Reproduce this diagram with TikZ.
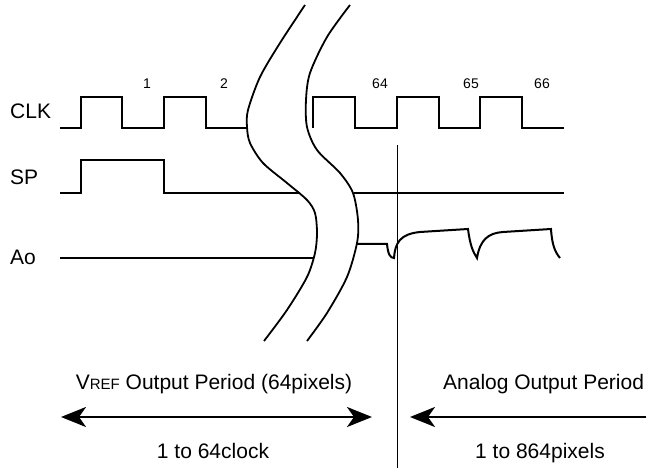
\documentclass[tikz,border=0pt]{standalone}
\usepackage{fontspec}
\setmainfont{Liberation Sans}
\usetikzlibrary{arrows.meta}
\begin{document}
\begin{tikzpicture}[x=1pt,y=-1pt,
  sig/.style={line width=2pt, line join=miter},
  brk/.style={line width=1.8pt},
  lbl/.style={font=\fontsize{21}{25}\selectfont, inner sep=0pt},
  num/.style={font=\fontsize{14}{17}\selectfont, inner sep=0pt},
  spanarrow/.style={line width=2.5pt},
  >={Stealth[length=25pt,width=20pt,inset=7pt]}]
\useasboundingbox (0,0) rectangle (646,468);
\node[lbl, anchor=base west] (clk) at (10,119){CLK};
\node[lbl, anchor=base west] (sp) at (10,185){SP};
\node[lbl, anchor=base west] (ao) at (10,265){Ao};
\node[num, anchor=base] (n1) at (147,89){1};
\node[num, anchor=base] (n2) at (224,89){2};
\node[num, anchor=base] (n64) at (380,89){64};
\node[num, anchor=base] (n65) at (471,89){65};
\node[num, anchor=base] (n66) at (542,89){66};
\draw[sig] (60,128) -- (81,128) -- (81,97) -- (122,97) -- (122,128) -- (164,128) -- (164,97) -- (206,97) -- (206,128) -- (247,128);
\draw[sig] (313,128) -- (313,97) -- (355,97) -- (355,128) -- (397,128) -- (397,97) -- (439,97) -- (439,128) -- (480,128) -- (480,97) -- (522,97) -- (522,128) -- (564,128);
\draw[sig] (60,193) -- (81,193) -- (81,160) -- (164,160) -- (164,193) -- (300,193);
\draw[sig] (354,193) -- (564,193);
\draw[sig] (60,258) -- (313,258);
\draw[sig] (357,244) -- (387,244) .. controls (388,254) and (390,258) .. (394,258) .. controls (395,243) and (400,234) .. (420,232) -- (468,229) .. controls (470,245) and (473,252) .. (477,258) .. controls (480,240) and (488,233) .. (503,232) -- (551,229) .. controls (552,245) and (555,252) .. (560,258);
\draw[brk] plot[smooth] coordinates {(305,5) (280,43) (260,77) (248,110) (247,127) (250,143) (263,163) (287,183) (307,200) (315,213) (317,233) (315,253) (307,277) (287,310) (264,341)};
\draw[brk] plot[smooth] coordinates {(350,5) (327,37) (310,73) (306,100) (307,127) (317,150) (340,173) (353,193) (358,220) (357,243) (347,277) (327,313) (307,341)};
\coordinate (vt) at (397,145);
\coordinate (vb) at (397,468);
\draw[line width=1pt] (vt) -- (vb);
\node[lbl, anchor=base] (vref) at (214,389){V{\fontsize{15}{17}\selectfont REF} Output Period (64pixels)};
\node[lbl, anchor=base west] (analog) at (443,389){Analog Output Period};
\node[lbl, anchor=base] (clocks) at (213,458){1 to 64clock};
\node[lbl, anchor=base] (pixels) at (540,458){1 to 864pixels};
\coordinate (vl) at (61,417);
\coordinate (vr) at (372,417);
\coordinate (al) at (410,417);
\coordinate (ar) at (646,417);
\draw[spanarrow, <->] (vl) -- (vr);
\draw[spanarrow, <-] (al) -- (ar);
\end{tikzpicture}
\end{document}
